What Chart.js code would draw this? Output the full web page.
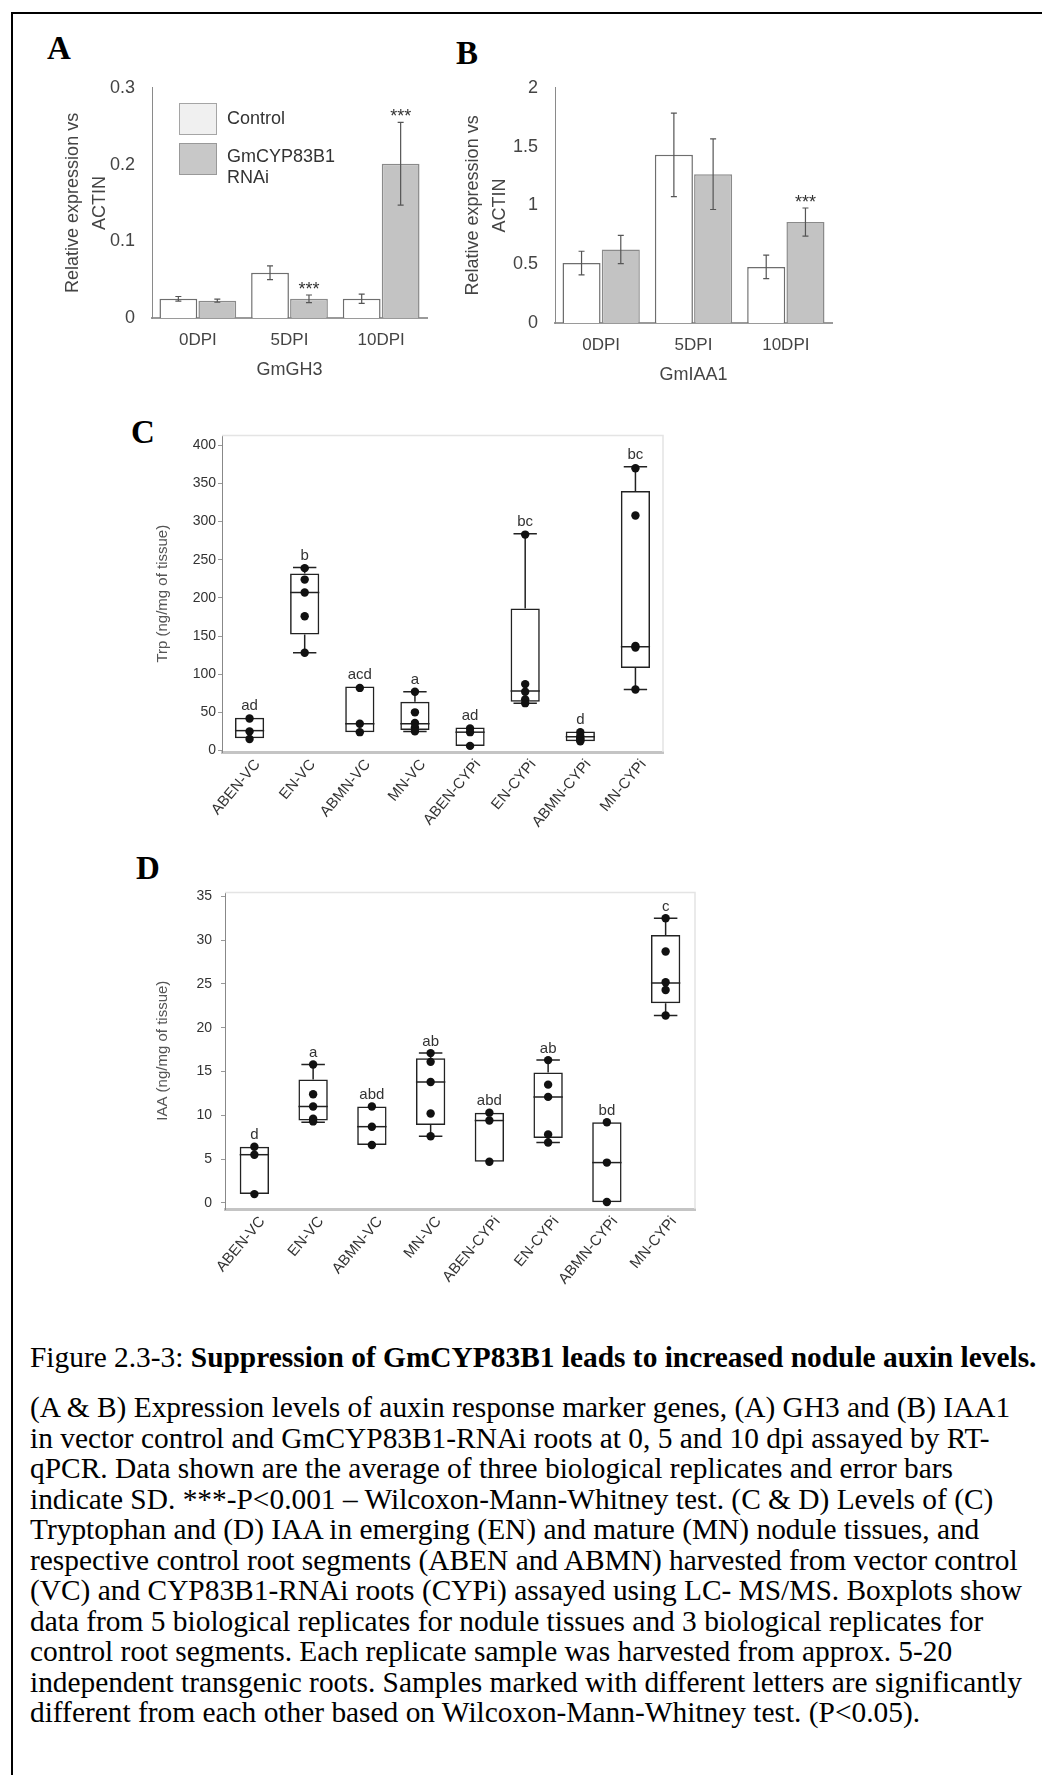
<!DOCTYPE html>
<html>
<head>
<meta charset="utf-8">
<title>Figure 2.3-3</title>
<script src="https://cdn.jsdelivr.net/npm/chart.js@4.4.1/dist/chart.umd.min.js"></script>
<style>
  body { margin: 0; background: #fff; width: 1042px; height: 1775px; position: relative; overflow: hidden;
         font-family: "Liberation Sans", Arial, sans-serif; }
  .frame { position: absolute; left: 11px; top: 12px; width: 1100px; height: 1800px;
           border-left: 2px solid #000; border-top: 2px solid #000; }
  .box { position: absolute; }
  .letter { position: absolute; font-family: "Liberation Serif", serif; font-weight: bold;
            font-size: 33px; line-height: 33px; }
  .legend { position: absolute; font-size: 18px; color: #333; line-height: 21px; }
  .swatch { position: absolute; width: 36px; height: 30px; }
  .cap { position: absolute; left: 30px; font-family: "Liberation Serif", serif; font-size: 29.4px;
         line-height: 30.5px; white-space: nowrap; color: #000; }
</style>
</head>
<body>
<div class="frame"></div>

<div class="letter" style="left:47px;top:32px">A</div>
<div class="letter" style="left:456px;top:37px">B</div>
<div class="letter" style="left:131px;top:416px">C</div>
<div class="letter" style="left:136px;top:852px">D</div>

<div class="box" style="left:40px;top:60px;width:400px;height:328px"><canvas id="chartA"></canvas></div>
<div class="box" style="left:440px;top:60px;width:405px;height:333px"><canvas id="chartB"></canvas></div>
<div class="box" style="left:140px;top:425px;width:540px;height:422px"><canvas id="chartC"></canvas></div>
<div class="box" style="left:140px;top:875px;width:570px;height:434px"><canvas id="chartD"></canvas></div>

<!-- legend of panel A -->
<div class="swatch" style="left:179px;top:103px;background:#f0f0f0;border:1px solid #a5a5a5"></div>
<div class="swatch" style="left:179px;top:143px;background:#c8c8c8;border:1px solid #999"></div>
<div class="legend" style="left:227px;top:108px">Control</div>
<div class="legend" style="left:227px;top:146px">GmCYP83B1<br>RNAi</div>

<div class="cap" style="top:1342px">Figure 2.3-3: <b>Suppression of GmCYP83B1 leads to increased nodule auxin levels.</b></div>
<div class="cap" style="top:1392px">
  <div>(A &amp; B) Expression levels of auxin response marker genes, (A) GH3 and (B) IAA1</div>
  <div>in vector control and GmCYP83B1-RNAi roots at 0, 5 and 10 dpi assayed by RT-</div>
  <div>qPCR. Data shown are the average of three biological replicates and error bars</div>
  <div>indicate SD. ***-P&lt;0.001 – Wilcoxon-Mann-Whitney test. (C &amp; D) Levels of (C)</div>
  <div>Tryptophan and (D) IAA in emerging (EN) and mature (MN) nodule tissues, and</div>
  <div>respective control root segments (ABEN and ABMN) harvested from vector control</div>
  <div>(VC) and CYP83B1-RNAi roots (CYPi) assayed using LC- MS/MS. Boxplots show</div>
  <div>data from 5 biological replicates for nodule tissues and 3 biological replicates for</div>
  <div>control root segments. Each replicate sample was harvested from approx. 5-20</div>
  <div>independent transgenic roots. Samples marked with different letters are significantly</div>
  <div>different from each other based on Wilcoxon-Mann-Whitney test. (P&lt;0.05).</div>
</div>

<script>
// ---- panel A : GmGH3 ----
const dpiLabels = ['0DPI', '5DPI', '10DPI'];
const gh3Ticks = [0, 0.1, 0.2, 0.3];
const gh3TickLabels = ['0', '0.1', '0.2', '0.3'];
const gh3Control = [0.025, 0.059, 0.025];
const gh3ControlSd = [0.003, 0.009, 0.006];
const gh3Rnai = [0.0225, 0.025, 0.201];
const gh3RnaiSd = [0.002, 0.005, 0.054];
const gh3RnaiStars = ['', '***', '***'];

// ---- panel B : GmIAA1 ----
const iaa1Ticks = [0, 0.5, 1, 1.5, 2];
const iaa1TickLabels = ['0', '0.5', '1', '1.5', '2'];
const iaa1Control = [0.51, 1.43, 0.477];
const iaa1ControlSd = [0.1, 0.355, 0.1];
const iaa1Rnai = [0.625, 1.265, 0.858];
const iaa1RnaiSd = [0.12, 0.3, 0.12];
const iaa1RnaiStars = ['', '', '***'];

// ---- panels C and D : tissues ----
const tissues = ['ABEN-VC', 'EN-VC', 'ABMN-VC', 'MN-VC', 'ABEN-CYPi', 'EN-CYPi', 'ABMN-CYPi', 'MN-CYPi'];

// C : Trp
const trpTicks = [0, 50, 100, 150, 200, 250, 300, 350, 400];
const trpPoints = [
  [42, 25, 15],
  [239, 224, 207, 176, 128],
  [82, 35, 24],
  [77, 50, 36, 30, 25],
  [29, 24, 6],
  [283, 87, 77, 67, 62],
  [24, 19, 16, 14, 12],
  [370, 308, 137, 135, 80]
];
const trpMin    = [16, 128, 24, 25, 6, 62, 12, 80];
const trpQ1     = [16, 152, 24, 27, 6, 64, 12, 108];
const trpMedian = [26, 207, 35, 35, 24, 78, 18, 136];
const trpQ3     = [43, 232, 84, 64, 30, 186, 25, 340];
const trpMax    = [43, 240, 84, 77, 30, 284, 25, 372];
const trpLetters = ['ad', 'b', 'acd', 'a', 'ad', 'bc', 'd', 'bc'];

// D : IAA
const iaaTicks = [0, 5, 10, 15, 20, 25, 30, 35];
const iaaPoints = [
  [6.4, 5.5, 1.0],
  [15.8, 12.4, 11.0, 9.6, 9.3],
  [11.0, 8.7, 6.6],
  [17.1, 16.1, 13.8, 10.2, 7.6],
  [10.3, 9.4, 4.7],
  [16.3, 13.5, 12.1, 7.8, 6.9],
  [9.2, 4.6, 0.1],
  [32.5, 28.7, 25.2, 24.3, 21.4]
];
const iaaMin    = [1.0, 9.2, 6.6, 7.6, 4.7, 6.9, 0.0, 21.4];
const iaaQ1     = [1.0, 9.4, 6.6, 8.9, 4.7, 7.4, 0.0, 22.8];
const iaaMedian = [5.5, 11.0, 8.7, 13.8, 9.4, 12.1, 4.6, 25.1];
const iaaQ3     = [6.4, 14.1, 11.0, 16.5, 10.3, 14.9, 9.2, 30.6];
const iaaMax    = [6.4, 15.8, 11.0, 17.1, 10.3, 16.3, 9.2, 32.5];
const iaaLetters = ['d', 'a', 'abd', 'ab', 'abd', 'ab', 'bd', 'c'];

Chart.defaults.font.family = '"Liberation Sans", Arial, sans-serif';
Chart.defaults.color = '#444';
Chart.defaults.animation = false;

// error bars + significance stars for the bar panels
const errorBars = {
  id: 'errorBars',
  afterDatasetsDraw(chart) {
    const ctx = chart.ctx, y = chart.scales.y;
    chart.data.datasets.forEach((ds, i) => {
      if (!ds.errors) return;
      chart.getDatasetMeta(i).data.forEach((bar, j) => {
        const top = y.getPixelForValue(ds.data[j] + ds.errors[j]);
        const bot = y.getPixelForValue(ds.data[j] - ds.errors[j]);
        ctx.save();
        ctx.strokeStyle = '#555';
        ctx.lineWidth = 1.2;
        ctx.beginPath();
        ctx.moveTo(bar.x, top); ctx.lineTo(bar.x, bot);
        ctx.moveTo(bar.x - 3, top); ctx.lineTo(bar.x + 3, top);
        ctx.moveTo(bar.x - 3, bot); ctx.lineTo(bar.x + 3, bot);
        ctx.stroke();
        if (ds.stars && ds.stars[j]) {
          ctx.fillStyle = '#333';
          ctx.font = '18px "Liberation Sans"';
          ctx.textAlign = 'center';
          ctx.textBaseline = 'middle';
          ctx.fillText(ds.stars[j], bar.x, top - 5);
        }
        ctx.restore();
      });
    });
  }
};

// median, whiskers, caps, letters and the faint frame for the boxplot panels
const boxParts = {
  id: 'boxParts',
  beforeDatasetsDraw(chart) {
    const ctx = chart.ctx, y = chart.scales.y, a = chart.chartArea;
    ctx.save();
    ctx.strokeStyle = '#e4e4e4';
    ctx.lineWidth = 1.5;
    ctx.beginPath();
    ctx.moveTo(a.left, a.top); ctx.lineTo(a.right, a.top); ctx.lineTo(a.right, a.bottom);
    ctx.stroke();
    chart.data.datasets.forEach((ds, i) => {
      if (!ds.median) return;
      chart.getDatasetMeta(i).data.forEach((bar, j) => {
        const x = bar.x, w = bar.width, cw = w * 0.8;
        const yMed = y.getPixelForValue(ds.median[j]);
        const yQ1 = y.getPixelForValue(ds.data[j][0]);
        const yQ3 = y.getPixelForValue(ds.data[j][1]);
        const yMin = y.getPixelForValue(ds.min[j]);
        const yMax = y.getPixelForValue(ds.max[j]);
        ctx.strokeStyle = '#222';
        ctx.lineWidth = 1.5;
        ctx.beginPath();
        ctx.moveTo(x - w / 2, yMed); ctx.lineTo(x + w / 2, yMed);
        if (ds.max[j] > ds.data[j][1]) {
          ctx.moveTo(x, yQ3); ctx.lineTo(x, yMax);
          ctx.moveTo(x - cw / 2, yMax); ctx.lineTo(x + cw / 2, yMax);
        }
        if (ds.min[j] < ds.data[j][0]) {
          ctx.moveTo(x, yQ1); ctx.lineTo(x, yMin);
          ctx.moveTo(x - cw / 2, yMin); ctx.lineTo(x + cw / 2, yMin);
        }
        ctx.stroke();
        ctx.fillStyle = '#333';
        ctx.font = '15px "Liberation Sans"';
        ctx.textAlign = 'center';
        ctx.textBaseline = 'bottom';
        ctx.fillText(ds.letters[j], x, yMax - 4);
      });
    });
    ctx.restore();
  }
};

function barPanel(id, labels, ticks, tickLabels, control, controlSd, rnai, rnaiSd, stars, gene, yWidth, padTop) {
  new Chart(document.getElementById(id), {
    type: 'bar',
    data: {
      labels: labels,
      datasets: [
        { label: 'Control', data: control, errors: controlSd,
          backgroundColor: '#ffffff', borderColor: '#6e6e6e', borderWidth: 1.5,
          categoryPercentage: 0.85, barPercentage: 0.97 },
        { label: 'GmCYP83B1 RNAi', data: rnai, errors: rnaiSd, stars: stars,
          backgroundColor: '#c3c3c3', borderColor: '#8a8a8a', borderWidth: 1.5,
          categoryPercentage: 0.85, barPercentage: 0.97 }
      ]
    },
    options: {
      responsive: true,
      maintainAspectRatio: false,
      layout: { padding: { top: padTop, right: 13, bottom: 0, left: 0 } },
      plugins: { legend: { display: false }, tooltip: { enabled: false } },
      scales: {
        x: {
          grid: { display: false, drawTicks: false },
          border: { color: '#9a9a9a', width: 2 },
          ticks: { font: { size: 17 }, padding: 12, color: '#444' },
          title: { display: true, text: gene, font: { size: 18 }, color: '#444', padding: { top: 4, bottom: 7 } },
          afterFit(s) { s.height = 70; }
        },
        y: {
          min: 0,
          max: ticks[ticks.length - 1],
          grid: { display: false, drawTicks: false },
          border: { color: '#8a8a8a', width: 1 },
          ticks: { font: { size: 18 }, padding: 17, color: '#444',
                   callback: (v, i) => tickLabels[i] },
          afterBuildTicks(s) { s.ticks = ticks.map(v => ({ value: v })); },
          title: { display: true, text: ['Relative expression vs', 'ACTIN'],
                   font: { size: 18, lineHeight: 1.5 }, color: '#444', padding: { top: 19.5, bottom: 0 } },
          afterFit(s) { s.width = yWidth; }
        }
      }
    },
    plugins: [errorBars]
  });
}

function boxPanel(id, ticks, yMin, yMax, points, mins, q1, med, q3, maxs, letters, yTitle, opts) {
  const dots = [];
  points.forEach((list, i) => list.forEach(v => dots.push({ x: tissues[i], y: v })));
  new Chart(document.getElementById(id), {
    type: 'bar',
    data: {
      labels: tissues,
      datasets: [
        { type: 'line', data: dots, showLine: false, pointRadius: 4.2,
          pointBackgroundColor: '#111', pointBorderWidth: 0, clip: false },
        { type: 'bar', data: q1.map((v, i) => [v, q3[i]]),
          median: med, min: mins, max: maxs, letters: letters,
          backgroundColor: 'rgba(255,255,255,0)', borderColor: '#222', borderWidth: 1.5,
          borderSkipped: false, categoryPercentage: 1, barPercentage: opts.barPct }
      ]
    },
    options: {
      responsive: true,
      maintainAspectRatio: false,
      layout: { padding: { top: opts.padTop, right: opts.padRight, bottom: 0, left: 0 } },
      plugins: { legend: { display: false }, tooltip: { enabled: false } },
      scales: {
        x: {
          grid: { display: false, drawTicks: false },
          border: { color: '#c4c4c4', width: 3 },
          ticks: { font: { size: 15 }, color: '#333', minRotation: 50, maxRotation: 50,
                   autoSkip: false, padding: 4, labelOffset: 8 },
          afterFit(s) { s.height = opts.xHeight; }
        },
        y: {
          min: yMin,
          max: yMax,
          grid: { drawOnChartArea: false, drawTicks: true, tickLength: 4, color: '#999' },
          border: { color: '#888', width: 1 },
          ticks: { font: { size: 14 }, color: '#333', padding: opts.tickPad },
          afterBuildTicks(s) { s.ticks = ticks.map(v => ({ value: v })); },
          title: { display: true, text: yTitle, font: { size: 15, lineHeight: 1.2 }, color: '#555',
                   padding: { top: 14, bottom: 0 } },
          afterFit(s) { s.width = opts.yWidth; }
        }
      }
    },
    plugins: [boxParts]
  });
}

barPanel('chartA', dpiLabels, gh3Ticks, gh3TickLabels, gh3Control, gh3ControlSd, gh3Rnai, gh3RnaiSd, gh3RnaiStars, 'GmGH3', 112, 18);
barPanel('chartB', dpiLabels, iaa1Ticks, iaa1TickLabels, iaa1Control, iaa1ControlSd, iaa1Rnai, iaa1RnaiSd, iaa1RnaiStars, 'GmIAA1', 115, 20);

boxPanel('chartC', trpTicks, -2, 413, trpPoints, trpMin, trpQ1, trpMedian, trpQ3, trpMax, trpLetters,
         'Trp (ng/mg of tissue)', { padTop: 10, padRight: 17, xHeight: 95, yWidth: 82, tickPad: 2, barPct: 0.53 });
boxPanel('chartD', iaaTicks, -0.7, 35.45, iaaPoints, iaaMin, iaaQ1, iaaMedian, iaaQ3, iaaMax, iaaLetters,
         'IAA (ng/mg of tissue)', { padTop: 14, padRight: 15, xHeight: 100, yWidth: 85, tickPad: 9, barPct: 0.5 });
</script>
</body>
</html>
